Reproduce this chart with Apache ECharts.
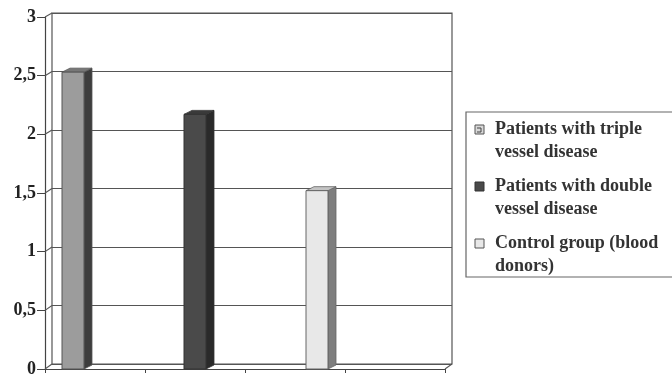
<!DOCTYPE html>
<html>
<head>
<meta charset="utf-8">
<script src="https://cdn.jsdelivr.net/npm/echarts@6/dist/echarts.min.js"></script>
<style>
  html, body { margin: 0; padding: 0; background: #fff; }
  #chart { width: 672px; height: 378px; }
</style>
</head>
<body>
<div id="chart"></div>
<script>
// Groups (one bar each) and their values
const groupNames = [
  'Patients with triple\nvessel disease',
  'Patients with double\nvessel disease',
  'Control group (blood\ndonors)'
];
const groupValues = [2.53, 2.17, 1.52];
// Floor slots along the x axis (the last one stays empty)
const slots = ['', '', '', ''];
// Value axis
const yMin = 0, yMax = 3, yStep = 0.5;
const yTicks = [0, 0.5, 1, 1.5, 2, 2.5, 3];

// Face colours per group: front, side, top, outline
const faces = [
  { front: '#9c9c9c', side: '#3d3d3d', top: '#777777', edge: '#555' },
  { front: '#4a4a4a', side: '#2a2a2a', top: '#3a3a3a', edge: '#333' },
  { front: '#e8e8e8', side: '#7e7e7e', top: '#c4c4c4', edge: '#666' }
];

const BAR_W = 22, DEPTH_X = 8, DEPTH_Y = 4;
const SERIF = '"Liberation Serif", "DejaVu Serif", serif';

// Front plane and back wall rectangles (pixels)
const FRONT = { left: 45, right: 227, top: 17, bottom: 9 };
const WALL = { left: 52, right: 220, top: 13, bottom: 14 };
const W = 672, H = 378;

function renderBar(params, api) {
  const cat = api.value(0), v = api.value(1);
  const base = api.coord([cat, 0]);
  const topPt = api.coord([cat, v]);
  const cx = base[0] + (params.seriesIndex - 1) * BAR_W;
  const x0 = cx - BAR_W / 2, x1 = cx + BAR_W / 2;
  const yT = topPt[1], yB = base[1];
  const f = faces[params.seriesIndex];
  return {
    type: 'group',
    children: [
      { type: 'polygon', shape: { points: [[x1, yT], [x1 + DEPTH_X, yT - DEPTH_Y], [x1 + DEPTH_X, yB - DEPTH_Y], [x1, yB]] },
        style: { fill: f.side, stroke: f.edge, lineWidth: 0.8 } },
      { type: 'polygon', shape: { points: [[x0, yT], [x0 + DEPTH_X, yT - DEPTH_Y], [x1 + DEPTH_X, yT - DEPTH_Y], [x1, yT]] },
        style: { fill: f.top, stroke: f.edge, lineWidth: 0.8 } },
      { type: 'rect', shape: { x: x0, y: yT, width: BAR_W, height: yB - yT },
        style: { fill: f.front, stroke: f.edge, lineWidth: 1 } }
    ]
  };
}

const series = groupNames.map((name, i) => ({
  name: name,
  type: 'custom',
  xAxisIndex: 0,
  yAxisIndex: 0,
  renderItem: renderBar,
  encode: { x: 0, y: 1 },
  data: [[i, groupValues[i]]],
  z: 5
}));

// Legend drawn as a boxed list
const legendX = 466, legendY = 112, rowH = 57;
const legendChildren = [
  { type: 'rect', shape: { x: legendX, y: legendY, width: 240, height: 165 },
    style: { fill: '#fff', stroke: '#666', lineWidth: 1.2 } }
];
groupNames.forEach((name, i) => {
  const y = legendY + 13 + i * rowH;
  const f = faces[i];
  legendChildren.push({ type: 'rect', shape: { x: legendX + 9, y: y, width: 9, height: 9 },
    style: { fill: i === 0 ? '#d8d8d8' : f.front, stroke: i === 1 ? '#333' : '#555', lineWidth: 1 } });
  if (i === 0) {
    legendChildren.push({ type: 'polyline', shape: { points: [[legendX + 11, y + 3], [legendX + 15, y + 3], [legendX + 15, y + 7], [legendX + 11, y + 7]] },
      style: { stroke: '#444', lineWidth: 1, fill: null } });
  }
  legendChildren.push({ type: 'text', x: legendX + 29, y: y - 7.5,
    style: { text: name, font: 'bold 18px ' + SERIF, fill: '#333', lineHeight: 23 } });
});

const chart = echarts.init(document.getElementById('chart'), null, { renderer: 'canvas' });
chart.setOption({
  backgroundColor: '#ffffff',
  animation: false,
  grid: [
    Object.assign({}, FRONT),
    Object.assign({ show: true, borderColor: '#555', borderWidth: 1.2 }, WALL)
  ],
  xAxis: [
    { type: 'category', gridIndex: 0, data: slots, boundaryGap: true,
      axisLine: { show: true, onZero: false, lineStyle: { color: '#444', width: 1.2 } },
      axisTick: { show: true, length: 4, lineStyle: { color: '#444' } },
      axisLabel: { show: false } },
    { type: 'category', gridIndex: 1, data: slots, show: false }
  ],
  yAxis: [
    { type: 'value', gridIndex: 0, min: yMin, max: yMax, interval: yStep,
      axisLine: { show: true, onZero: false, lineStyle: { color: '#444', width: 1.2 } },
      axisTick: { show: true, length: 8, lineStyle: { color: '#444' } },
      splitLine: { show: false },
      axisLabel: { color: '#222', fontFamily: SERIF, fontWeight: 'bold', fontSize: 18, margin: 9,
        formatter: v => String(v).replace('.', ',') } },
    { type: 'value', gridIndex: 1, min: yMin, max: yMax, interval: yStep,
      axisLine: { show: false }, axisTick: { show: false }, axisLabel: { show: false },
      splitLine: { show: true, lineStyle: { color: '#555', width: 1.2 } } }
  ],
  series: series
});

// Side wall and floor edges: join each front tick to its gridline on the back wall
const fx0 = FRONT.left, fy1 = H - FRONT.bottom, fx1 = W - FRONT.right;
const bx0 = WALL.left, by1 = H - WALL.bottom, bx1 = W - WALL.right;
const edgeStyle = () => ({ stroke: '#555', lineWidth: 1.1, fill: null });
const frameLines = yTicks.map(v => {
  const yf = chart.convertToPixel({ yAxisIndex: 0 }, v);
  const yb = chart.convertToPixel({ yAxisIndex: 1 }, v);
  return { type: 'polyline', shape: { points: [[fx0, yf], [bx0, yb]] }, style: edgeStyle(), z: 3 };
});
frameLines.push({ type: 'polyline', shape: { points: [[fx1, fy1], [bx1, by1]] }, style: edgeStyle(), z: 3 });

chart.setOption({
  graphic: frameLines.concat([{ type: 'group', children: legendChildren }])
});
</script>
</body>
</html>
